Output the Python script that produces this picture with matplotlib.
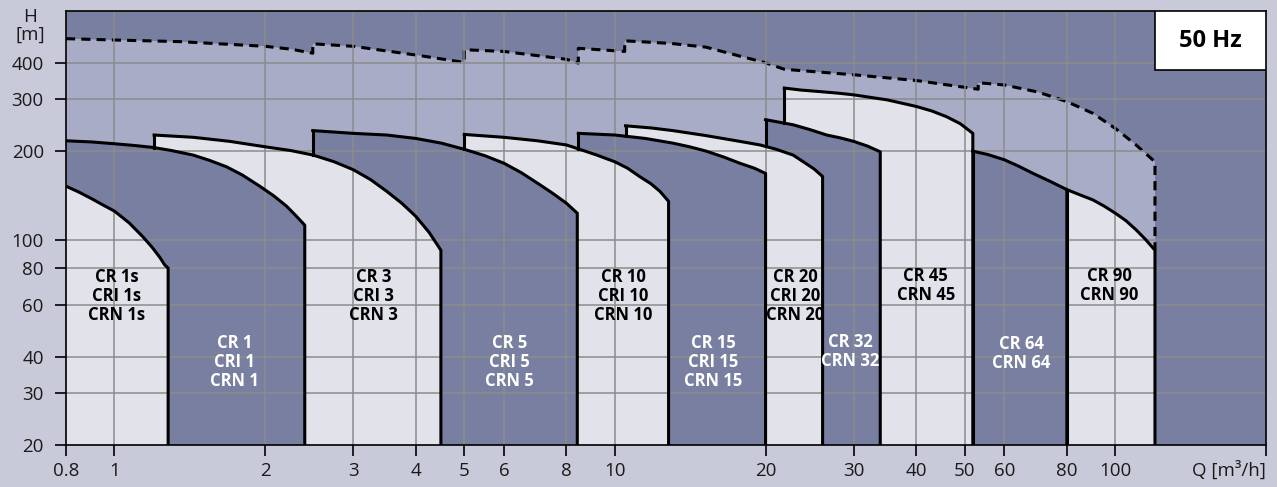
import numpy as np
import matplotlib
matplotlib.use("Agg")
import matplotlib.pyplot as plt
from matplotlib.patches import Polygon, Rectangle

plt.rcParams['font.family'] = ['Open Sans', 'DejaVu Sans']

# colours
BG = '#c8cad9'
DARK = '#787fa1'
MID = '#a9acc6'
LIGHT = '#e1e2ea'
GRID = '#8c8c8c'

BASE = 20

# pump ranges, top curve points (Q [m3/h], H [m]), top-most first
q_cr1s = [0.8, 0.85, 0.906, 0.95, 1.0, 1.07, 1.141, 1.19, 1.232, 1.26, 1.28]
h_cr1s = [152, 145, 137, 131, 125, 114, 102, 94, 87, 82, 80]
q_cr1 = [0.8, 0.9, 1.0, 1.1, 1.194, 1.3, 1.436, 1.55, 1.674, 1.8, 1.951, 2.08, 2.207, 2.3, 2.40]
h_cr1 = [217, 215, 212, 209, 206, 201, 194, 186, 177, 166, 152, 141, 130, 121, 112]
q_cr3 = [1.2, 1.436, 1.7, 2.0, 2.25, 2.494, 2.75, 3.0, 3.25, 3.5, 3.75, 4.0, 4.25, 4.4, 4.49]
h_cr3 = [227, 223, 216, 207, 201, 194, 184, 173, 160, 146, 133, 120, 106, 97, 92]
q_cr5 = [2.49, 3.0, 3.5, 4.0, 4.5, 5.0, 5.5, 6.0, 6.5, 7.07, 7.5, 8.0, 8.41]
h_cr5 = [235, 230, 227, 221, 213, 203, 193, 182, 169, 154, 144, 133, 123]
q_cr10 = [5.0, 6.0, 7.0, 8.0, 8.5, 9.2, 10.0, 10.6, 11.2, 11.8, 12.3, 12.8]
h_cr10 = [228, 223, 217, 210, 203, 194, 184, 175, 164, 155, 146, 135]
q_cr15 = [8.45, 10.0, 11.5, 13.06, 14.1, 15.23, 16.5, 17.76, 19.0, 20.0]
h_cr15 = [230, 227, 221, 213, 207, 200, 191, 182, 175, 168]
q_cr20 = [10.5, 11.8, 13.06, 15.2, 17.76, 19.5, 21.0, 22.7, 23.8, 25.0, 26.0]
h_cr20 = [244, 240, 235, 226, 216, 210, 203, 194, 184, 174, 164]
q_cr32 = [20.0, 21.3, 22.7, 24.5, 26.5, 28.2, 30.0, 32.0, 33.9]
h_cr32 = [256, 251, 246, 237, 227, 222, 216, 208, 199]
q_cr45 = [21.8, 23.5, 25.7, 28.0, 30.0, 35.0, 40.0, 43.0, 46.0, 49.0, 51.9]
h_cr45 = [328, 323, 319, 315, 311, 299, 284, 274, 262, 248, 230]
q_cr64 = [51.9, 55.5, 60.0, 64.0, 68.5, 74.0, 80.0]
h_cr64 = [200, 195, 187, 178, 168, 158, 148]
q_cr90 = [80.0, 85.0, 90.2, 95.0, 100.0, 105.0, 110.0, 115.0, 120.0]
h_cr90 = [148, 142, 136.5, 130, 123, 116, 108, 100, 92]

pumps = [
    (q_cr1s, h_cr1s, LIGHT),
    (q_cr1, h_cr1, DARK),
    (q_cr3, h_cr3, LIGHT),
    (q_cr5, h_cr5, DARK),
    (q_cr10, h_cr10, LIGHT),
    (q_cr15, h_cr15, DARK),
    (q_cr20, h_cr20, LIGHT),
    (q_cr32, h_cr32, DARK),
    (q_cr45, h_cr45, LIGHT),
    (q_cr64, h_cr64, DARK),
    (q_cr90, h_cr90, LIGHT),
]

# dashed max envelope
q_env = [0.8, 1.0, 1.35, 2.0, 2.25, 2.49, 2.49, 3.0, 4.0, 5.0, 5.0, 6.0, 8.0, 8.45, 8.45,
         10.46, 10.46, 11.2, 13.0, 15.2, 17.8, 20.0, 21.8, 30.0, 40.0, 53.2, 53.2, 60.0,
         70.0, 80.0, 90.2, 100.0, 110.0, 120.0, 120.0]
h_env = [483, 478, 472, 455, 445, 431, 464, 455, 425, 401, 443, 437, 411, 399, 448,
         437, 475, 472, 465, 452, 421, 400, 380, 364, 348, 325, 342, 336,
         318, 295, 269, 239, 210, 184, 92]

labels = [
    ("CR 1s\nCRI 1s\nCRN 1s", 1.01, 64.3, 'black'),
    ("CR 1\nCRI 1\nCRN 1", 1.74, 38.3, 'white'),
    ("CR 3\nCRI 3\nCRN 3", 3.29, 64.3, 'black'),
    ("CR 5\nCRI 5\nCRN 5", 6.16, 38.3, 'white'),
    ("CR 10\nCRI 10\nCRN 10", 10.4, 64.3, 'black'),
    ("CR 15\nCRI 15\nCRN 15", 15.7, 38.3, 'white'),
    ("CR 20\nCRI 20\nCRN 20", 22.9, 64.3, 'black'),
    ("CR 32\nCRN 32", 29.5, 41.7, 'white'),
    ("CR 45\nCRN 45", 41.8, 69.7, 'black'),
    ("CR 64\nCRN 64", 64.9, 41.0, 'white'),
    ("CR 90\nCRN 90", 97.4, 69.7, 'black'),
]

x_ticks = [0.8, 1, 2, 3, 4, 5, 6, 8, 10, 20, 30, 40, 50, 60, 80, 100, 200]
x_ticklabels = ['0.8', '1', '2', '3', '4', '5', '6', '8', '10', '20', '30', '40',
                '50', '60', '80', '100', '']
y_ticks = [20, 30, 40, 60, 80, 100, 200, 300, 400]
x_grid = [1, 2, 3, 4, 5, 6, 8, 10, 20, 30, 40, 50, 60, 80, 100]
y_grid = [30, 40, 60, 80, 100, 200, 300, 400]

fig = plt.figure(figsize=(12.77, 4.87), dpi=100, facecolor=BG)
ax = fig.add_axes([66 / 1277, 42 / 487, 1200 / 1277, 434 / 487])
ax.set_facecolor(DARK)
ax.set_xscale('log')
ax.set_yscale('log')
ax.set_xlim(0.8, 200)
ax.set_ylim(BASE, 600)

# medium area under the envelope
env_poly = list(zip(q_env, h_env)) + [(q_env[-1], BASE), (q_env[0], BASE)]
ax.add_patch(Polygon(env_poly, closed=True, fc=MID, ec='none', zorder=1))
ax.plot(q_env, h_env, color='black', lw=2.2, ls=(0, (3, 2)), zorder=1.5)

# pump areas, drawn bottom-most first
n = len(pumps)
for i in range(n - 1, -1, -1):
    q, h, col = pumps[i]
    poly = [(q[0], BASE)] + list(zip(q, h)) + [(q[-1], BASE)]
    ax.add_patch(Polygon(poly, closed=True, fc=col, ec='none', zorder=2 + (n - i) * 0.01))

# grid above the fills
for g in x_grid:
    ax.axvline(g, color=GRID, lw=1.1, zorder=3)
for g in y_grid:
    ax.axhline(g, color=GRID, lw=1.1, zorder=3)

# visible outlines
for i, (q, h, col) in enumerate(pumps):
    xs = list(q) + [q[-1]]
    ys = list(h) + [BASE]
    ax.plot(xs, ys, color='black', lw=2.2, zorder=4, solid_joinstyle='round')
    if i > 0 and q[0] > 0.8:
        pq, ph, _ = pumps[i - 1]
        if q[0] < pq[-1]:
            low = 10 ** np.interp(np.log10(q[0]), np.log10(pq), np.log10(ph))
        else:
            low = BASE
        ax.plot([q[0], q[0]], [h[0], low], color='black', lw=2.2, zorder=4)

for txt, x, y, c in labels:
    ax.text(x, y, txt, color=c, ha='center', va='center', fontsize=12,
            fontweight='bold', linespacing=1.1, zorder=5)

ax.set_xticks(x_ticks)
ax.set_xticklabels(x_ticklabels)
ax.set_yticks(y_ticks)
ax.set_yticklabels([str(v) for v in y_ticks])
ax.minorticks_off()
ax.tick_params(axis='both', which='major', length=8, width=1.2, color='black',
               labelsize=13.5, labelcolor='#1a1a1a')
ax.tick_params(axis='y', pad=8)
ax.tick_params(axis='x', pad=4)
for sp in ax.spines.values():
    sp.set_color('black')
    sp.set_linewidth(1.2)
    sp.set_zorder(6)

# 50 Hz box
ax.add_patch(Rectangle((0.9075, 0.864), 0.0925, 0.136, transform=ax.transAxes,
                       fc='white', ec='black', lw=1.2, zorder=7))
ax.text(0.95375, 0.932, "50 Hz", transform=ax.transAxes, ha='center', va='center',
        fontsize=17, fontweight='bold', zorder=8)

fig.text(30 / 1277, 1 - 17 / 487, "H", ha='center', va='center', fontsize=13.5, color='#1a1a1a')
fig.text(30 / 1277, 1 - 35 / 487, "[m]", ha='center', va='center', fontsize=13.5, color='#1a1a1a')
fig.text(1266 / 1277, 1 - 470 / 487, "Q [m³/h]", ha='right', va='center', fontsize=13.5, color='#1a1a1a')

fig.savefig('out.png', dpi=100, facecolor=BG)
